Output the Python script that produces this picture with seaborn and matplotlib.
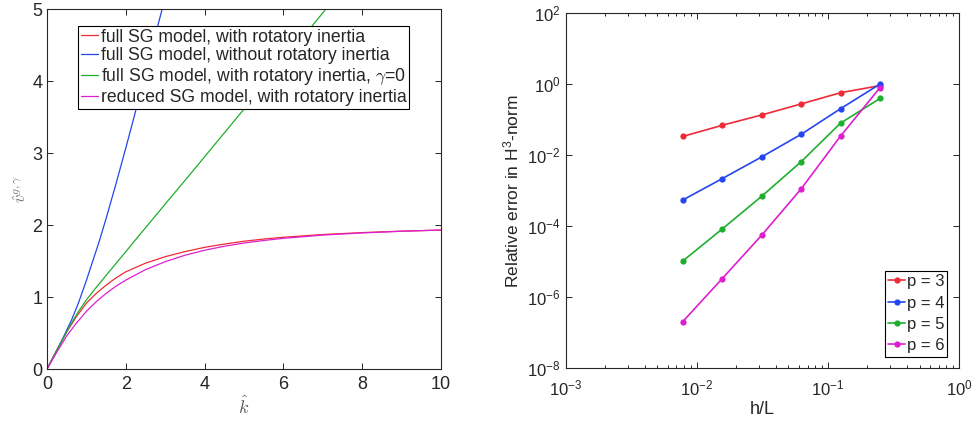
import numpy as np
import pandas as pd
import matplotlib
matplotlib.use("Agg")
import matplotlib.pyplot as plt
import matplotlib.ticker as mticker
import seaborn as sns

# ---------------- data ----------------
# Left panel: group velocity curves vs k-hat
k_red = [0, 0.25, 0.5, 0.75, 1.0, 1.25, 1.5, 1.75, 2.0, 2.5, 3.0, 3.5, 4.0, 4.5, 5.0, 5.5, 6.0, 7.0, 8.0, 9.0, 10.0]
v_red = [0, 0.265, 0.515, 0.73, 0.915, 1.05, 1.165, 1.265, 1.35, 1.47, 1.56, 1.63, 1.69, 1.735, 1.775,
         1.805, 1.83, 1.868, 1.895, 1.915, 1.93]
k_mag = [0, 0.25, 0.5, 0.75, 1.0, 1.25, 1.5, 1.75, 2.0, 2.5, 3.0, 3.5, 4.0, 4.5, 5.0, 5.5, 6.0, 7.0, 8.0, 9.0, 10.0]
v_mag = [0, 0.235, 0.46, 0.64, 0.80, 0.935, 1.05, 1.15, 1.235, 1.38, 1.49, 1.58, 1.65, 1.705, 1.75,
         1.785, 1.815, 1.86, 1.89, 1.913, 1.93]
k_blue = [0, 0.15, 0.3, 0.45, 0.63, 0.8, 1.0, 1.15, 1.33, 1.5, 1.75, 2.0, 2.2, 2.5, 2.78, 3.0]
v_blue = [0, 0.152, 0.31, 0.48, 0.69, 0.92, 1.23, 1.48, 1.78, 2.09, 2.57, 3.07, 3.48, 4.11, 4.70, 5.16]
k_green = [0, 0.3, 0.63, 0.8, 1.0, 1.2, 1.5, 2.0, 2.24, 3.12, 3.55, 5.0, 6.72, 7.5]
v_green = [0, 0.315, 0.645, 0.80, 0.96, 1.10, 1.30, 1.63, 1.79, 2.37, 2.65, 3.61, 4.76, 5.28]

left_labels = ["full SG model, with rotatory inertia",
               "full SG model, without rotatory inertia",
               r"full SG model, with rotatory inertia, $\gamma$=0",
               "reduced SG model, with rotatory inertia"]

# Right panel: convergence study
hL = [1/128, 1/64, 1/32, 1/16, 1/8, 1/4]
err_p3 = [3.4e-2, 7.0e-2, 1.37e-1, 2.8e-1, 5.8e-1, 9.2e-1]
err_p4 = [5.5e-4, 2.2e-3, 9.0e-3, 3.9e-2, 2.06e-1, 1.02]
err_p5 = [1.05e-5, 8.4e-5, 7.0e-4, 6.6e-3, 8.1e-2, 4.0e-1]
err_p6 = [2.06e-7, 3.36e-6, 5.6e-5, 1.13e-3, 3.5e-2, 8.1e-1]
right_labels = ["p = 3", "p = 4", "p = 5", "p = 6"]

colors = ["#ee2b36", "#2545f0", "#1fae2e", "#de1fd0"]

# ---------------- style ----------------
sns.set_theme(style="white")
plt.rcParams["font.family"] = ["Liberation Sans", "DejaVu Sans"]
plt.rcParams["mathtext.fontset"] = "custom"
plt.rcParams["mathtext.rm"] = "Liberation Sans"
plt.rcParams["mathtext.it"] = "Liberation Sans:italic"
plt.rcParams["mathtext.bf"] = "Liberation Sans:bold"

axcol = "#262626"

fig = plt.figure(figsize=(9.77, 4.24), dpi=100)
ax1 = fig.add_axes([0.0481, 0.1297, 0.4033, 0.849])
ax2 = fig.add_axes([0.579, 0.1314, 0.4026, 0.8372])

# ---------------- left panel ----------------
left_series = [(k_red, v_red), (k_blue, v_blue), (k_green, v_green), (k_mag, v_mag)]
for (kk, vv), c, lab in zip(left_series, colors, left_labels):
    df = pd.DataFrame({"k": kk, "v": vv})
    sns.lineplot(data=df, x="k", y="v", ax=ax1, color=c, linewidth=0.9,
                 label=lab, sort=False, estimator=None)

ax1.set_xlim(0, 10)
ax1.set_ylim(0, 5)
ax1.set_xticks([0, 2, 4, 6, 8, 10])
ax1.set_yticks([0, 1, 2, 3, 4, 5])
ax1.set_xlabel(r"$\hat{k}$", fontsize=13, color="#555555", math_fontfamily="cm", labelpad=2)
ax1.set_ylabel(r"$\hat{v}^{g,\gamma}$", fontsize=12, color="#777777", math_fontfamily="cm", labelpad=2)

leg1 = ax1.legend(loc="upper left", bbox_to_anchor=(0.079, 0.953), borderaxespad=0,
                  fontsize=12.7, handlelength=1.0, handletextpad=0.12, labelspacing=0.1,
                  borderpad=0.15, fancybox=False, framealpha=1, edgecolor="black")
leg1.get_frame().set_linewidth(0.8)
for t in leg1.get_texts():
    t.set_math_fontfamily("cm")

# ---------------- right panel ----------------
for errs, c, lab in zip([err_p3, err_p4, err_p5, err_p6], colors, right_labels):
    df = pd.DataFrame({"h": hL, "e": errs})
    sns.lineplot(data=df, x="h", y="e", ax=ax2, color=c, linewidth=1.2, marker="o",
                 markersize=4.5, markeredgewidth=0, label=lab, sort=False, estimator=None)

ax2.set_xscale("log")
ax2.set_yscale("log")
ax2.set_xlim(1e-3, 1)
ax2.set_ylim(1e-8, 1e2)
ax2.yaxis.set_major_locator(mticker.FixedLocator([1e-8, 1e-6, 1e-4, 1e-2, 1e0, 1e2]))
ax2.yaxis.set_minor_locator(mticker.NullLocator())
ax2.xaxis.set_major_locator(mticker.LogLocator(base=10, numticks=10))
ax2.xaxis.set_minor_locator(mticker.LogLocator(base=10, subs=np.arange(2, 10), numticks=20))
ax2.xaxis.set_minor_formatter(mticker.NullFormatter())
ax2.set_xlabel("h/L", fontsize=13, color=axcol, labelpad=2)
ax2.set_ylabel(r"Relative error in H$^3$-norm", fontsize=12.5, color=axcol, labelpad=4)

leg2 = ax2.legend(loc="lower right", borderaxespad=0.7, fontsize=12, handlelength=1.0,
                  handletextpad=0.1, labelspacing=0.38, borderpad=0.2, fancybox=False,
                  framealpha=1, edgecolor="black")
leg2.get_frame().set_linewidth(0.8)

for ax, ls in ((ax1, 13), (ax2, 12)):
    for s in ax.spines.values():
        s.set_visible(True)
        s.set_color(axcol)
        s.set_linewidth(0.8)
    ax.tick_params(which="both", direction="in", top=True, right=True, bottom=True, left=True,
                   colors=axcol, labelsize=ls, width=0.7)
    ax.tick_params(which="major", length=4)
    ax.tick_params(which="minor", length=2.5)
    ax.grid(False)
    ax.set_facecolor("white")

ax2.tick_params(axis="x", which="major", pad=7)
ax1.tick_params(axis="x", which="major", pad=5)

fig.savefig("out.png", dpi=100, facecolor="white")
